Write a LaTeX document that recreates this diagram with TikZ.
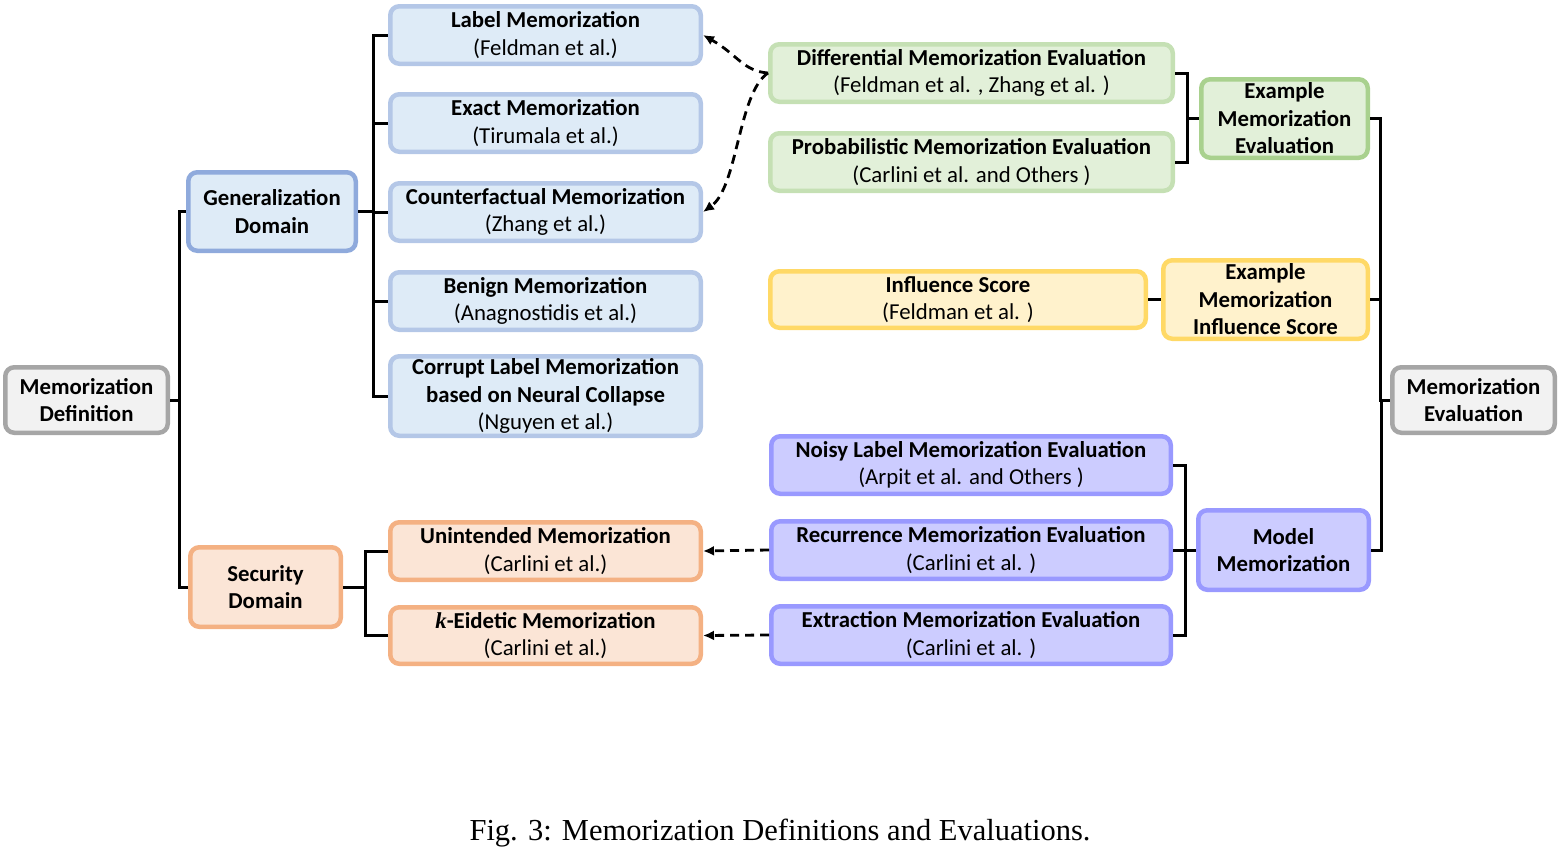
\documentclass[tikz,border=0pt]{standalone}
\usepackage{fontspec}
\setmainfont{Carlito}
\newfontfamily\capfont{Liberation Serif}
\newfontfamily\kfont{Liberation Serif}
\usetikzlibrary{arrows.meta}
\definecolor{grayF}{HTML}{F2F2F2}\definecolor{grayD}{HTML}{A6A6A6}
\definecolor{blueF}{HTML}{DEEBF7}\definecolor{blueD}{HTML}{B4C7E7}\definecolor{blueDD}{HTML}{8FAADC}
\definecolor{oraF}{HTML}{FBE5D6}\definecolor{oraD}{HTML}{F4B183}
\definecolor{grnF}{HTML}{E2F0D9}\definecolor{grnD}{HTML}{C5E0B4}\definecolor{grnDD}{HTML}{A9D18E}
\definecolor{yelF}{HTML}{FFF2CC}\definecolor{yelD}{HTML}{FFD966}
\definecolor{purF}{HTML}{CCCCFF}\definecolor{purD}{HTML}{9999FF}
\tikzset{
  bbox/.style={rectangle, rounded corners=9, line width=4.5, align=center, inner sep=0,
    font=\fontsize{22.8}{27.5}\selectfont},
  gbox/.style={bbox, fill=grayF, draw=grayD},
  bluebox/.style={bbox, fill=blueF, draw=blueD},
  bluebigbox/.style={bbox, fill=blueF, draw=blueDD},
  orabox/.style={bbox, fill=oraF, draw=oraD},
  grnbox/.style={bbox, fill=grnF, draw=grnD},
  grnbigbox/.style={bbox, fill=grnF, draw=grnDD},
  yelbox/.style={bbox, fill=yelF, draw=yelD},
  purbox/.style={bbox, fill=purF, draw=purD},
  conn/.style={line width=3, black},
  dasharrow/.style={line width=2.8, dash pattern=on 9 off 6, -{Latex[length=11,width=10]}},
}
\newcommand\bx[7]{\node[#2, minimum width={#5-#3-4.5}, minimum height={#6-#4-4.5}] (#1) at ({(#3+#5)/2},{(#4+#6)/2}) {#7};}
\begin{document}
\begin{tikzpicture}[x=1pt,y=-1pt]
\useasboundingbox (0,0) rectangle (1562,849);
% left
\bx{md}{gbox}{3}{365}{170}{435}{\textbf{Memorization}\\\textbf{Definition}}
\bx{gen}{bluebigbox}{186}{170}{358}{253}{\textbf{Generalization}\\\textbf{Domain}}
\bx{sec}{orabox}{188}{545}{343}{629}{\textbf{Security}\\\textbf{Domain}}
\bx{lab}{bluebox}{388}{4}{703}{66}{\textbf{Label Memorization}\\(Feldman et al.)}
\bx{exa}{bluebox}{388}{92}{703}{154}{\textbf{Exact Memorization}\\(Tirumala et al.)}
\bx{cf}{bluebox}{388}{181}{703}{243}{\textbf{Counterfactual Memorization}\\(Zhang et al.)}
\bx{ben}{bluebox}{388}{270}{703}{332}{\textbf{Benign Memorization}\\(Anagnostidis et al.)}
\bx{cor}{bluebox}{388}{354}{703}{438}{\textbf{Corrupt Label Memorization}\\\textbf{based on Neural Collapse}\\(Nguyen et al.)}
\bx{uni}{orabox}{388}{520}{703}{582}{\textbf{Unintended Memorization}\\(Carlini et al.)}
\bx{kei}{orabox}{388}{605}{703}{666}{{\kfont\bfseries\itshape k}\textbf{-Eidetic Memorization}\\(Carlini et al.)}
% right
\bx{dif}{grnbox}{768}{42}{1175}{104}{\textbf{Differential Memorization Evaluation}\\(Feldman et al. , Zhang et al. )}
\bx{pro}{grnbox}{768}{131}{1175}{193}{\textbf{Probabilistic Memorization Evaluation}\\(Carlini et al. and Others )}
\bx{eme}{grnbigbox}{1199}{77}{1370}{160}{\textbf{Example}\\\textbf{Memorization}\\\textbf{Evaluation}}
\bx{inf}{yelbox}{768}{269}{1148}{330}{\textbf{Influence Score}\\(Feldman et al. )}
\bx{emi}{yelbox}{1161}{258}{1370}{341}{\textbf{Example}\\\textbf{Memorization}\\\textbf{Influence Score}}
\bx{noi}{purbox}{769}{434}{1173}{496}{\textbf{Noisy Label Memorization Evaluation}\\(Arpit et al. and Others )}
\bx{rec}{purbox}{769}{519}{1173}{581}{\textbf{Recurrence Memorization Evaluation}\\(Carlini et al. )}
\bx{ext}{purbox}{769}{604}{1173}{666}{\textbf{Extraction Memorization Evaluation}\\(Carlini et al. )}
\bx{mm}{purbox}{1196}{508}{1371}{592}{\textbf{Model}\\\textbf{Memorization}}
\bx{mev}{gbox}{1390}{365}{1557}{435}{\textbf{Memorization}\\\textbf{Evaluation}}
% tree connectors
\draw[conn] (md.east) -- ++(9,0) |- (gen.west);
\draw[conn] (md.east) -- ++(9,0) |- (sec.west);
\foreach \t in {lab,exa,cf,ben,cor} \draw[conn] (gen.east) -- ++(15,0) |- (\t.west);
\foreach \t in {uni,kei} \draw[conn] (sec.east) -- ++(22,0) |- (\t.west);
\foreach \t in {dif,pro} \draw[conn] (\t.east) -- ++(12,0) |- (eme.west);
\foreach \t in {eme,emi,mm} \draw[conn] (\t.east) -- ++(10,0) |- (mev.west);
\draw[conn] (inf.east) -- (emi.west);
\foreach \t in {noi,rec,ext} \draw[conn] (\t.east) -- ++(12,0) |- (mm.west);
% dashed arrows
\draw[dasharrow] (dif.west) .. controls +(-25,-2) and +(35,20) .. (lab.east);
\draw[dasharrow] (dif.west) .. controls +(-30,20) and +(35,-25) .. (cf.east);
\draw[dasharrow] (rec.west) -- (uni.east);
\draw[dasharrow] (ext.west) -- (kei.east);
% caption
\node[font=\capfont\fontsize{30.5}{34}\selectfont, inner sep=0] (cap) at (780,833) {Fig. 3: Memorization Definitions and Evaluations.};
\end{tikzpicture}
\end{document}
